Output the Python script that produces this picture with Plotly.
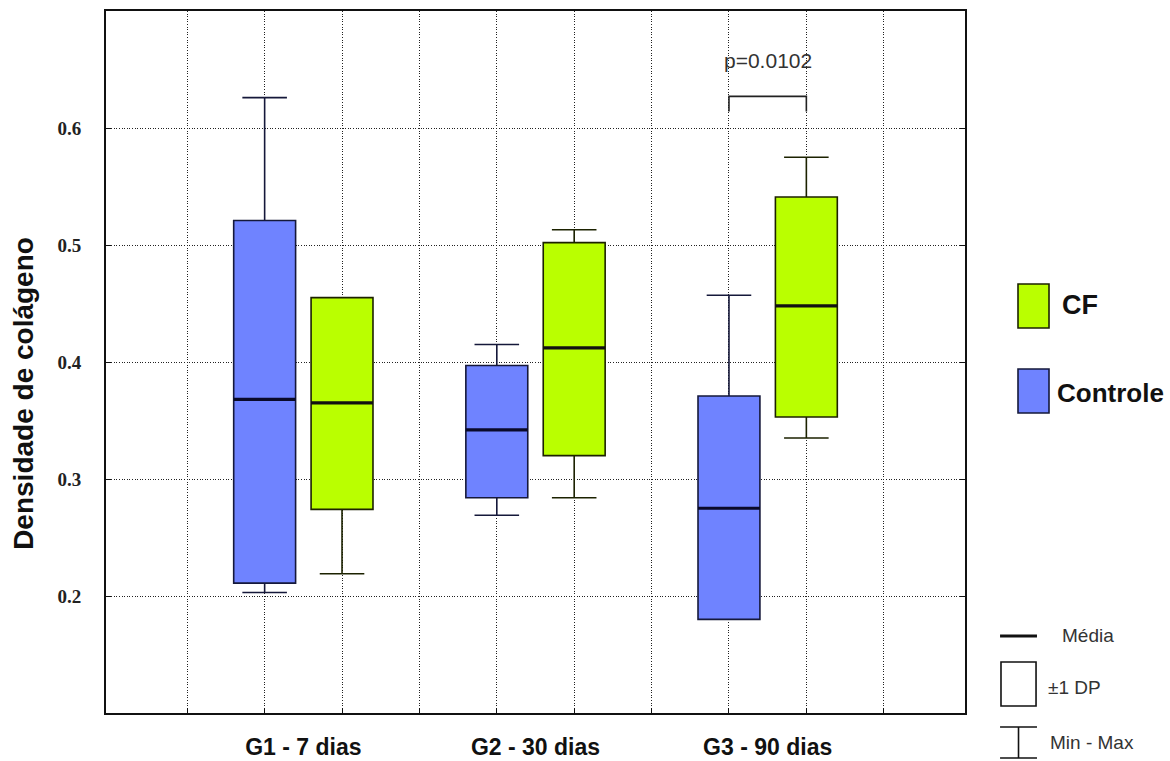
import plotly.graph_objects as go

# ---------------- data ----------------
groups = ["G1 - 7 dias", "G2 - 30 dias", "G3 - 90 dias"]
y_ticks = [0.2, 0.3, 0.4, 0.5, 0.6]
y_tick_text = ["0.2", "0.3", "0.4", "0.5", "0.6"]

ctrl_mean = [0.368, 0.342, 0.275]
ctrl_sd_lo = [0.211, 0.284, 0.180]
ctrl_sd_hi = [0.521, 0.397, 0.371]
ctrl_min = [0.203, 0.269, 0.180]
ctrl_max = [0.626, 0.415, 0.457]

cf_mean = [0.365, 0.412, 0.448]
cf_sd_lo = [0.274, 0.320, 0.353]
cf_sd_hi = [0.455, 0.502, 0.541]
cf_min = [0.219, 0.284, 0.335]
cf_max = [0.455, 0.513, 0.575]

p_text = "p=0.0102"
bracket_y = [0.614, 0.627]
p_y = 0.658

# ---------------- layout constants ----------------
ctrl_pos = [2, 5, 8]
cf_pos = [3, 6, 9]
group_pos = [2.5, 5.5, 8.5]
BOX_W = 0.8

BLUE = "#6f83ff"
BLUE_LINE = "#15183a"
GREEN = "#baff00"
GREEN_LINE = "#1c2200"
FONT = "Arial, Liberation Sans, sans-serif"

fig = go.Figure()

fig.add_trace(go.Box(
    x=ctrl_pos, q1=ctrl_sd_lo, median=ctrl_mean, q3=ctrl_sd_hi,
    lowerfence=ctrl_min, upperfence=ctrl_max,
    width=BOX_W, whiskerwidth=0.72, boxpoints=False,
    fillcolor=BLUE, line=dict(color=BLUE_LINE, width=1.6),
    name="Controle", showlegend=False, hoverinfo="skip"))

fig.add_trace(go.Box(
    x=cf_pos, q1=cf_sd_lo, median=cf_mean, q3=cf_sd_hi,
    lowerfence=cf_min, upperfence=cf_max,
    width=BOX_W, whiskerwidth=0.72, boxpoints=False,
    fillcolor=GREEN, line=dict(color=GREEN_LINE, width=1.6),
    name="CF", showlegend=False, hoverinfo="skip"))


def mean_segments(pos, means):
    xs, ys = [], []
    for p, m in zip(pos, means):
        xs += [p - BOX_W / 2, p + BOX_W / 2, None]
        ys += [m, m, None]
    return xs, ys


for pos, means, col in [(ctrl_pos, ctrl_mean, "#0a0a2a"), (cf_pos, cf_mean, "#111111")]:
    xs, ys = mean_segments(pos, means)
    fig.add_trace(go.Scatter(x=xs, y=ys, mode="lines",
                             line=dict(color=col, width=3.2),
                             showlegend=False, hoverinfo="skip"))

# significance bracket between the G3 boxes
fig.add_trace(go.Scatter(
    x=[ctrl_pos[2], ctrl_pos[2], cf_pos[2], cf_pos[2]],
    y=[bracket_y[0], bracket_y[1], bracket_y[1], bracket_y[0]],
    mode="lines", line=dict(color="#222222", width=1.6),
    showlegend=False, hoverinfo="skip"))

annotations = [
    dict(x=(ctrl_pos[2] + cf_pos[2]) / 2, y=p_y, xref="x", yref="y",
         text=p_text, showarrow=False,
         font=dict(family=FONT, size=21, color="#333333")),
    dict(x=-0.0955, y=0.456, xref="paper", yref="paper", textangle=-90,
         text="<b>Densidade de colágeno</b>", showarrow=False,
         xanchor="center", yanchor="middle",
         font=dict(family=FONT, size=28, color="#111111")),
    # legend labels
    dict(x=1.1106, y=0.5812, xref="paper", yref="paper", text="<b>CF</b>",
         showarrow=False, xanchor="left", yanchor="middle",
         font=dict(family=FONT, size=27, color="#111111")),
    dict(x=1.1048, y=0.4558, xref="paper", yref="paper", text="<b>Controle</b>",
         showarrow=False, xanchor="left", yanchor="middle",
         font=dict(family=FONT, size=26, color="#111111")),
    dict(x=1.1432, y=0.1097, xref="paper", yref="paper", text="Média",
         showarrow=False, xanchor="center", yanchor="middle",
         font=dict(family=FONT, size=19, color="#333333")),
    dict(x=1.0943, y=0.037, xref="paper", yref="paper", text="±1 DP",
         showarrow=False, xanchor="left", yanchor="middle",
         font=dict(family=FONT, size=19, color="#333333")),
    dict(x=1.0966, y=-0.0427, xref="paper", yref="paper", text="Min - Max",
         showarrow=False, xanchor="left", yanchor="middle",
         font=dict(family=FONT, size=19, color="#333333")),
]

shapes = [
    # CF / Controle legend swatches
    dict(type="rect", xref="paper", yref="paper", x0=1.0617, x1=1.0978,
         y0=0.5484, y1=0.6111, fillcolor=GREEN, line=dict(color=GREEN_LINE, width=1.6)),
    dict(type="rect", xref="paper", yref="paper", x0=1.0617, x1=1.0978,
         y0=0.4274, y1=0.4900, fillcolor=BLUE, line=dict(color=BLUE_LINE, width=1.6)),
    # Média
    dict(type="line", xref="paper", yref="paper", x0=1.0408, x1=1.0838,
         y0=0.1097, y1=0.1097, line=dict(color="#111111", width=3)),
    # ±1 DP box
    dict(type="rect", xref="paper", yref="paper", x0=1.0419, x1=1.0827,
         y0=0.0100, y1=0.0726, fillcolor="white", line=dict(color="#111111", width=1.6)),
    # Min - Max whisker symbol
    dict(type="line", xref="paper", yref="paper", x0=1.0408, x1=1.0838,
         y0=-0.0199, y1=-0.0199, line=dict(color="#111111", width=1.6)),
    dict(type="line", xref="paper", yref="paper", x0=1.0408, x1=1.0838,
         y0=-0.0641, y1=-0.0641, line=dict(color="#111111", width=1.6)),
    dict(type="line", xref="paper", yref="paper", x0=1.0623, x1=1.0623,
         y0=-0.0199, y1=-0.0641, line=dict(color="#111111", width=1.6)),
]

GRID = dict(gridcolor="#222222", gridwidth=1, griddash="1px,1.6px")

fig.update_layout(
    width=1170, height=761,
    margin=dict(l=106, r=205, t=11, b=48, autoexpand=False),
    paper_bgcolor="white", plot_bgcolor="white",
    annotations=annotations, shapes=shapes,
    showlegend=False,
    xaxis=dict(
        range=[-0.05, 11.05], automargin=False,
        tickmode="array", tickvals=group_pos,
        ticktext=["<b>%s</b>" % g for g in groups],
        tickfont=dict(family=FONT, size=23, color="#111111"),
        ticks="", showgrid=False, zeroline=False,
        showline=True, linecolor="#111111", linewidth=2, mirror=True,
        ticklabelstandoff=12,
        minor=dict(tickmode="array", tickvals=list(range(1, 11)),
                   showgrid=True, ticks="inside", ticklen=5,
                   tickcolor="#111111", **GRID),
    ),
    yaxis=dict(
        range=[0.1, 0.7], automargin=False,
        tickmode="array", tickvals=y_ticks,
        ticktext=["<b>%s</b>" % t for t in y_tick_text],
        tickfont=dict(family="Liberation Serif, Times New Roman, serif", size=19, color="#222222"),
        ticks="inside", ticklen=5, tickcolor="#111111",
        showgrid=True, zeroline=False,
        showline=True, linecolor="#111111", linewidth=2, mirror="ticks",
        ticklabelstandoff=19,
        **GRID,
    ),
)

fig.write_html("out.html", config={"displayModeBar": False},
               post_script="document.body.style.margin='0';document.body.style.overflow='hidden';")
